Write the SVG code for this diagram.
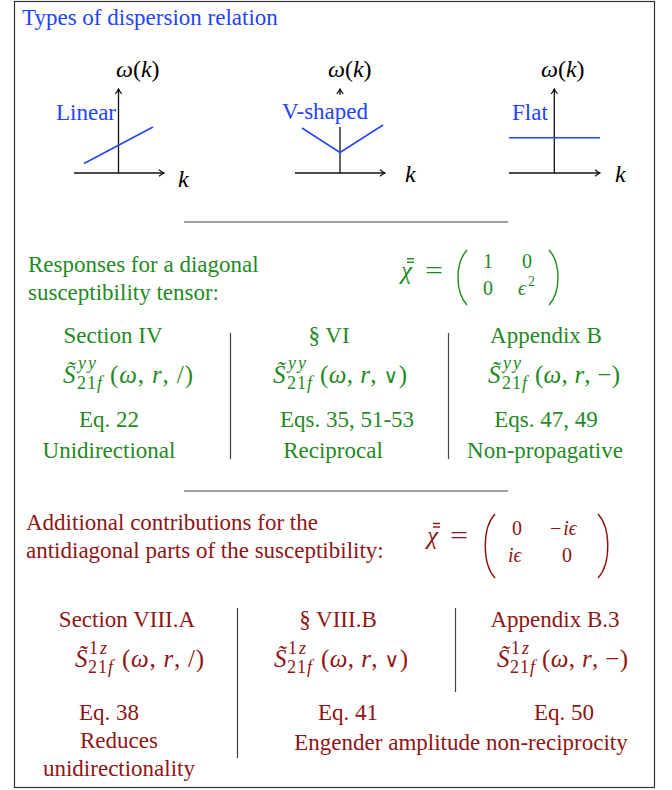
<svg xmlns="http://www.w3.org/2000/svg" width="672" height="790" viewBox="0 0 672 790">
<style>
  text { font-family: "Liberation Serif", "DejaVu Serif", serif; font-size: 23px; }
  .b { fill: #2244ff; }
  .g { fill: #1f8a1f; }
  .r { fill: #8f1515; }
  .i { font-style: italic; }
  .c { text-anchor: middle; }
  .mm { font-size: 25px; }
  .pl { font-size: 24px; }
  .sm { font-size: 18px; }
  .me { font-size: 20px; }
  .s2 { font-size: 14px; }
  .vee { font-size: 20px; }
  .ls2 { letter-spacing: 2px; }
  .ls1 { letter-spacing: 1px; }
  .axis { stroke: #111; stroke-width: 1.3; fill: none; }
  .blue { stroke: #2244ff; stroke-width: 1.5; fill: none; }
  .rule { stroke: #444; stroke-width: 1.2; fill: none; }
  .gl { stroke: #1f8a1f; stroke-width: 1.4; fill: none; }
  .rl { stroke: #8f1515; stroke-width: 1.4; fill: none; }
</style>
<defs>
  <marker id="arr" viewBox="-6 -4 7 8" markerWidth="7" markerHeight="8" refX="0" refY="0" orient="auto" markerUnits="userSpaceOnUse">
    <path d="M-5,-3.2 Q-2,-0.8 0,0 Q-2,0.8 -5,3.2" fill="none" stroke="#111" stroke-width="1.2"/>
  </marker>
</defs>
<rect x="14.5" y="1.5" width="640" height="786" fill="#fff" stroke="#333" stroke-width="1.2"/>

<g id="title"><text x="22" y="25" class="b">Types of dispersion relation</text></g>

<g id="plot-linear">
  <line class="axis" x1="74" y1="173" x2="164" y2="173" marker-end="url(#arr)"/>
  <line class="axis" x1="118.5" y1="173" x2="118.5" y2="89" marker-end="url(#arr)"/>
  <line class="blue" x1="84" y1="163.5" x2="153" y2="127"/>
  <text x="56" y="120" class="b">Linear</text>
  <text x="116" y="77" class="pl"><tspan class="i">ω</tspan>(<tspan class="i">k</tspan>)</text>
  <text x="178" y="187" class="i pl">k</text>
</g>

<g id="plot-vshaped">
  <line class="axis" x1="295" y1="173" x2="385" y2="173" marker-end="url(#arr)"/>
  <line class="axis" x1="340" y1="173" x2="340" y2="89" marker-end="url(#arr)"/>
  <polyline class="blue" points="302,128 340,152.5 383,125"/>
  <rect x="279" y="95" width="92" height="32" fill="#fff"/>
  <text x="282" y="119" class="b">V-shaped</text>
  <text x="328" y="77" class="pl"><tspan class="i">ω</tspan>(<tspan class="i">k</tspan>)</text>
  <text x="405" y="182" class="i pl">k</text>
</g>

<g id="plot-flat">
  <line class="axis" x1="509" y1="173" x2="600" y2="173" marker-end="url(#arr)"/>
  <line class="axis" x1="554.3" y1="173" x2="554.3" y2="89" marker-end="url(#arr)"/>
  <line class="blue" x1="509" y1="137.7" x2="600" y2="137.7"/>
  <text x="512" y="120" class="b">Flat</text>
  <text x="541" y="77" class="pl"><tspan class="i">ω</tspan>(<tspan class="i">k</tspan>)</text>
  <text x="615" y="182" class="i pl">k</text>
</g>

<g id="connectors">
  <line class="rule" x1="184" y1="222" x2="508" y2="222"/>
  <line class="rule" x1="184" y1="491" x2="508" y2="491"/>
  <line class="rule" x1="230.5" y1="333" x2="230.5" y2="459"/>
  <line class="rule" x1="448.5" y1="333" x2="448.5" y2="459"/>
  <line class="rule" x1="237.5" y1="608" x2="237.5" y2="758"/>
  <line class="rule" x1="455.5" y1="608" x2="455.5" y2="692"/>
</g>

<g id="diag-heading">
  <text x="28" y="272" class="g">Responses for a diagonal</text>
  <text x="28" y="300" class="g">susceptibility tensor:</text>
</g>

<g id="diag-matrix">
  <text x="401" y="279" class="g i mm">χ</text>
  <line class="gl" x1="407" y1="258.7" x2="414" y2="258.7" stroke-width="1"/>
  <line class="gl" x1="407" y1="262.3" x2="414" y2="262.3" stroke-width="1"/>
  <text x="425" y="278" class="g" textLength="18" lengthAdjust="spacingAndGlyphs">=</text>
  <path class="gl" d="M467,250 C455,263 455,292 467,305"/>
  <path class="gl" d="M549,250 C561,263 561,292 549,305"/>
  <text x="483" y="268" class="g me">1</text>
  <text x="522" y="268" class="g me">0</text>
  <text x="483" y="295" class="g me">0</text>
  <text x="518" y="295" class="g me i">ϵ</text>
  <text x="528" y="286" class="g s2">2</text>
</g>

<g id="diag-col1">
  <text x="113" y="343" class="g c">Section IV</text>
  <text class="g mm"><tspan x="63" y="383" class="i">S̃</tspan><tspan x="78" y="369" class="i sm ls2">yy</tspan><tspan x="77" y="389" class="sm ls1">21<tspan class="i">f</tspan></tspan></text>
  <text x="110" y="383" class="g mm" textLength="83">(<tspan class="i">ω</tspan>, <tspan class="i">r</tspan>, /)</text>
  <text x="109" y="427" class="g c">Eq. 22</text>
  <text x="109" y="458" class="g c">Unidirectional</text>
</g>

<g id="diag-col2">
  <text x="329" y="343" class="g c">§ VI</text>
  <text class="g mm"><tspan x="273" y="383" class="i">S̃</tspan><tspan x="288" y="369" class="i sm ls2">yy</tspan><tspan x="287" y="389" class="sm ls1">21<tspan class="i">f</tspan></tspan></text>
  <text x="320" y="383" class="g mm" textLength="87">(<tspan class="i">ω</tspan>, <tspan class="i">r</tspan>, <tspan class="vee">∨</tspan>)</text>
  <text x="347" y="427" class="g c">Eqs. 35, 51-53</text>
  <text x="333" y="458" class="g c">Reciprocal</text>
</g>

<g id="diag-col3">
  <text x="546" y="343" class="g c">Appendix B</text>
  <text class="g mm"><tspan x="488" y="383" class="i">S̃</tspan><tspan x="503" y="369" class="i sm ls2">yy</tspan><tspan x="502" y="389" class="sm ls1">21<tspan class="i">f</tspan></tspan></text>
  <text x="535" y="383" class="g mm" textLength="85">(<tspan class="i">ω</tspan>, <tspan class="i">r</tspan>, −)</text>
  <text x="546" y="427" class="g c">Eqs. 47, 49</text>
  <text x="545" y="458" class="g c">Non-propagative</text>
</g>

<g id="anti-heading">
  <text x="26" y="530" class="r">Additional contributions for the</text>
  <text x="26" y="558" class="r">antidiagonal parts of the susceptibility:</text>
</g>

<g id="anti-matrix">
  <text x="427" y="544" class="r i mm">χ</text>
  <line class="rl" x1="433" y1="523.5" x2="440" y2="523.5" stroke-width="1"/>
  <line class="rl" x1="433" y1="527" x2="440" y2="527" stroke-width="1"/>
  <text x="450" y="543" class="r" textLength="18" lengthAdjust="spacingAndGlyphs">=</text>
  <path class="rl" d="M495,514 C482,528 482,564 495,578"/>
  <path class="rl" d="M598,514 C611,528 611,564 598,578"/>
  <text x="512" y="535" class="r me">0</text>
  <text x="550" y="535" class="r me">−<tspan class="i" dx="2">iϵ</tspan></text>
  <text x="508" y="562" class="r me i">iϵ</text>
  <text x="562" y="562" class="r me">0</text>
</g>

<g id="anti-col1">
  <text x="127" y="627" class="r c">Section VIII.A</text>
  <text class="r mm"><tspan x="75" y="667" class="i">S̃</tspan><tspan x="89" y="654" class="sm ls2">1<tspan class="i">z</tspan></tspan><tspan x="88" y="673" class="sm ls1">21<tspan class="i">f</tspan></tspan></text>
  <text x="122" y="667" class="r mm" textLength="82">(<tspan class="i">ω</tspan>, <tspan class="i">r</tspan>, /)</text>
  <text x="109" y="720" class="r c">Eq. 38</text>
  <text x="119" y="748" class="r c">Reduces</text>
  <text x="119" y="776" class="r c">unidirectionality</text>
</g>

<g id="anti-col2">
  <text x="338" y="627" class="r c">§ VIII.B</text>
  <text class="r mm"><tspan x="274" y="667" class="i">S̃</tspan><tspan x="288" y="654" class="sm ls2">1<tspan class="i">z</tspan></tspan><tspan x="287" y="673" class="sm ls1">21<tspan class="i">f</tspan></tspan></text>
  <text x="321" y="667" class="r mm" textLength="87">(<tspan class="i">ω</tspan>, <tspan class="i">r</tspan>, <tspan class="vee">∨</tspan>)</text>
  <text x="348" y="720" class="r c">Eq. 41</text>
</g>

<g id="anti-col3">
  <text x="555" y="627" class="r c">Appendix B.3</text>
  <text class="r mm"><tspan x="497" y="667" class="i">S̃</tspan><tspan x="511" y="654" class="sm ls2">1<tspan class="i">z</tspan></tspan><tspan x="510" y="673" class="sm ls1">21<tspan class="i">f</tspan></tspan></text>
  <text x="542" y="667" class="r mm" textLength="86">(<tspan class="i">ω</tspan>, <tspan class="i">r</tspan>, −)</text>
  <text x="564" y="720" class="r c">Eq. 50</text>
</g>

<g id="anti-shared">
  <text x="461" y="750" class="r c">Engender amplitude non-reciprocity</text>
</g>
</svg>
